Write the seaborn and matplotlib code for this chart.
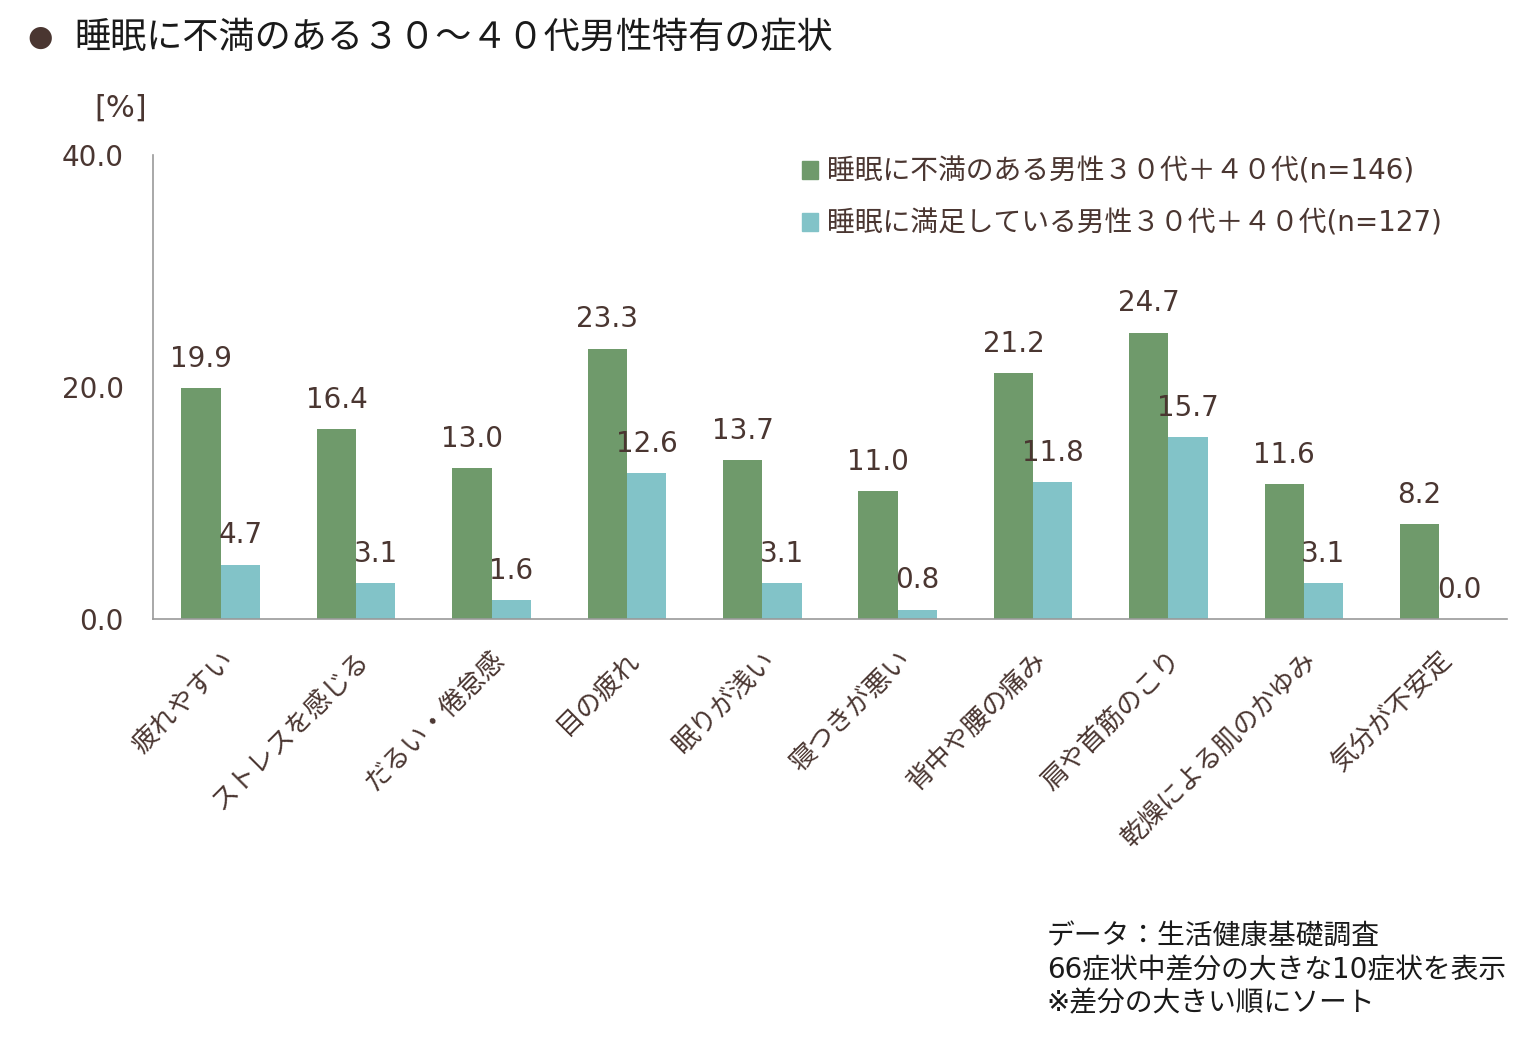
import pandas as pd
import matplotlib.pyplot as plt
import seaborn as sns

# データ
categories = ['疲れやすい', 'ストレスを感じる', 'だるい・倦怠感', '目の疲れ', '眠りが浅い',
              '寝つきが悪い', '背中や腰の痛み', '肩や首筋のこり', '乾燥による肌のかゆみ', '気分が不安定']
unsatisfied = [19.9, 16.4, 13.0, 23.3, 13.7, 11.0, 21.2, 24.7, 11.6, 8.2]
satisfied = [4.7, 3.1, 1.6, 12.6, 3.1, 0.8, 11.8, 15.7, 3.1, 0.0]
series_names = ['睡眠に不満のある男性３０代＋４０代(n=146)',
                '睡眠に満足している男性３０代＋４０代(n=127)']

df = pd.DataFrame({
    'symptom': categories * 2,
    'value': unsatisfied + satisfied,
    'group': [series_names[0]] * len(categories) + [series_names[1]] * len(categories),
})

sns.set_style('white')
plt.rcParams['font.family'] = ['DejaVu Sans', 'Noto Sans CJK JP']

brown = '#4A3631'
green = '#6F9A6B'
teal = '#82C3C8'

fig = plt.figure(figsize=(15.26, 10.39), dpi=100)
ax = fig.add_axes([0.1003, 0.4042, 0.8872, 0.4466])

sns.barplot(data=df, x='symptom', y='value', hue='group', palette=[green, teal],
            width=0.58, saturation=1, linewidth=0, ax=ax, legend=False)

for cont in ax.containers:
    ax.bar_label(cont, fmt='%.1f', padding=11, fontsize=20, color=brown)

ax.set_ylim(0, 40)
ax.set_xlim(-0.5, 9.5)
ax.set_yticks([0, 20, 40])
ax.set_yticklabels(['0.0', '20.0', '40.0'], fontsize=20, color=brown)
ax.tick_params(axis='y', length=0, pad=21)
ax.tick_params(axis='x', length=0, pad=20)
ax.set_xticks(range(len(categories)))
ax.set_xticklabels(categories, rotation=45, ha='right', rotation_mode='anchor',
                   fontsize=19, color=brown)
ax.set_xlabel('')
ax.set_ylabel('')
for s in ['top', 'right']:
    ax.spines[s].set_visible(False)
for s in ['left', 'bottom']:
    ax.spines[s].set_color('#9A9A9A')
    ax.spines[s].set_linewidth(1.2)

# 凡例
handles = [plt.Rectangle((0, 0), 1, 1, color=c) for c in [green, teal]]
leg = fig.legend(handles, series_names, loc='upper left', bbox_to_anchor=(0.509, 0.872),
                 frameon=False, fontsize=20, handlelength=0.6, handleheight=0.6,
                 handletextpad=0.3, labelspacing=0.85)
for t in leg.get_texts():
    t.set_color(brown)

# タイトル等
fig.text(0.018, 0.964, '●', fontsize=21, color=brown, va='center')
fig.text(0.049, 0.964, '睡眠に不満のある３０～４０代男性特有の症状', fontsize=26,
         color='#1A1A1A', va='center')
fig.text(0.079, 0.896, '[%]', fontsize=22, color=brown, va='center', ha='center')

fig.text(0.686, 0.0664, 'データ：生活健康基礎調査\n66症状中差分の大きな10症状を表示\n※差分の大きい順にソート',
         fontsize=20, color='#1A1A1A', va='center', linespacing=1.25)

fig.savefig('out.png', dpi=100)
